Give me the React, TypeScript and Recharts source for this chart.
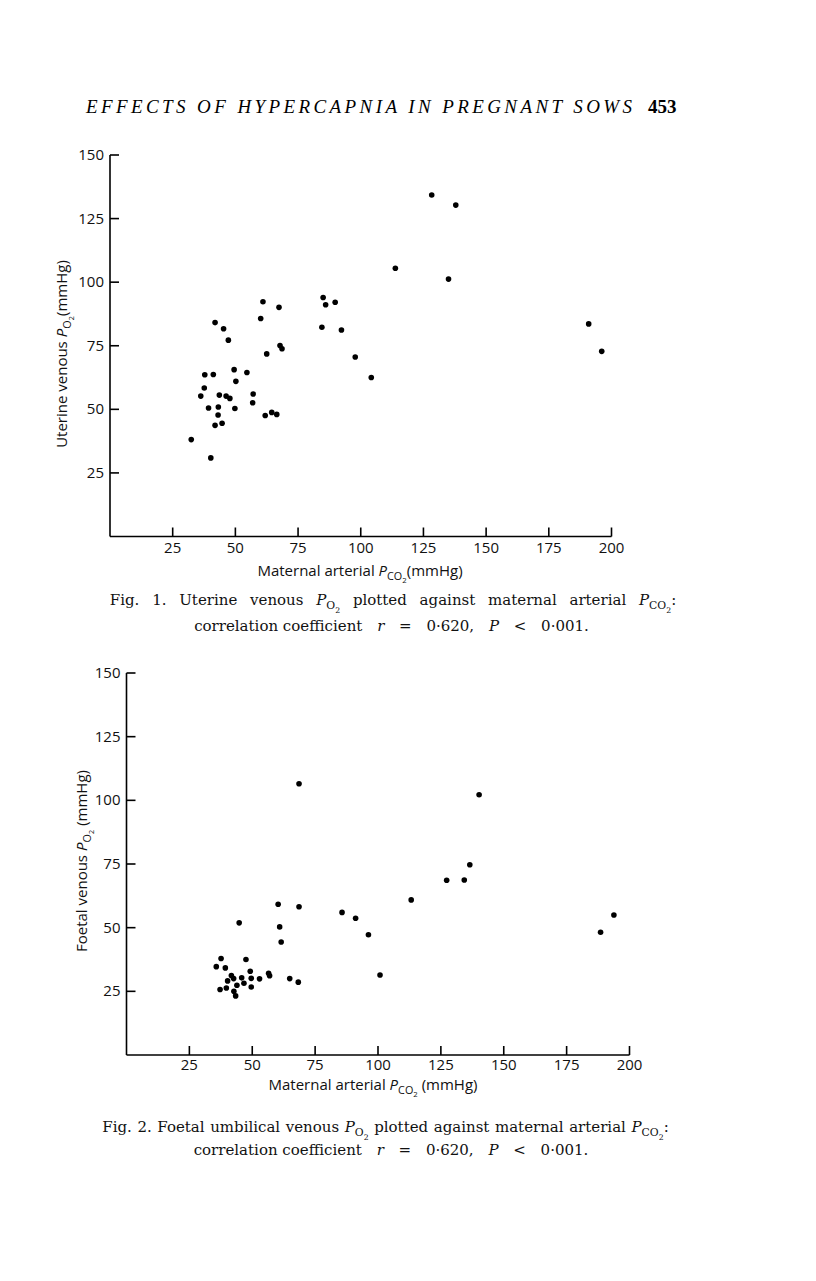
import React from "react";
import { Scatter, ScatterChart, XAxis, YAxis } from "recharts";

// Fig. 1 — maternal arterial PCO2 vs uterine venous PO2 (mmHg)
const fig1Pco2 = [
  41.9, 45.3, 47.2, 60.1, 61.0, 67.4, 85.0, 86.0, 89.8, 84.5, 92.3, 67.8, 68.6, 62.5, 97.8,
  104.2, 37.8, 41.2, 49.5, 54.6, 37.6, 50.2, 36.2, 43.6, 46.3, 47.8, 57.1, 39.3, 43.2, 49.8,
  56.9, 43.1, 61.9, 64.5, 66.5, 41.9, 44.7, 32.4, 40.2, 128.3, 137.9, 113.8, 135.0, 190.9, 196.1,
];
const fig1Po2 = [
  84.1, 81.7, 77.2, 85.7, 92.3, 90.1, 94.0, 91.1, 92.1, 82.3, 81.2, 75.1, 73.8, 71.8, 70.6,
  62.5, 63.6, 63.7, 65.6, 64.5, 58.4, 61.0, 55.2, 55.6, 55.2, 54.3, 56.0, 50.5, 50.9, 50.3,
  52.6, 47.8, 47.6, 48.8, 48.0, 43.7, 44.5, 38.1, 30.9, 134.3, 130.3, 105.5, 101.2, 83.6, 72.8,
];

// Fig. 2 — maternal arterial PCO2 vs foetal venous PO2 (mmHg)
const fig2Pco2 = [
  44.8, 60.3, 68.6, 60.9, 61.5, 85.7, 91.1, 96.2, 113.2, 100.8, 37.6, 47.5, 35.7, 39.3, 41.7,
  42.6, 40.2, 45.8, 49.2, 49.6, 52.9, 56.5, 56.9, 64.9, 68.3, 46.7, 43.9, 37.2, 39.7, 42.7,
  43.4, 49.6, 68.6, 140.2, 136.5, 127.3, 134.3, 193.8, 188.5,
];
const fig2Po2 = [
  51.9, 59.2, 58.2, 50.3, 44.4, 56.0, 53.7, 47.2, 60.9, 31.4, 37.9, 37.5, 34.7, 34.2, 31.2,
  30.0, 29.1, 30.3, 32.9, 30.1, 29.9, 32.1, 31.1, 30.0, 28.6, 28.2, 27.4, 25.7, 26.3, 25.0,
  23.2, 26.7, 106.5, 102.2, 74.7, 68.6, 68.7, 55.0, 48.2,
];

const xTicks = [25, 50, 75, 100, 125, 150, 175, 200];
const yTicks = [25, 50, 75, 100, 125, 150];

const sans = "'Open Sans', sans-serif";
const serif = "'DejaVu Serif', serif";

const toPoints = (xs: number[], ys: number[]) => xs.map((x, i) => ({ x, y: ys[i] }));

const XTick = (props: any) => {
  const { x, y, payload, labelGap = 16 } = props;
  return (
    <g>
      <line x1={x} x2={x} y1={y} y2={y - 9} stroke="#000" strokeWidth={1.6} />
      <text x={x} y={y + labelGap} textAnchor="middle" fontFamily={sans} fontSize={15} fill="#111">
        {payload.value}
      </text>
    </g>
  );
};

const YTick = (props: any) => {
  const { x, y, payload } = props;
  return (
    <g>
      <line x1={x} x2={x + 9} y1={y} y2={y} stroke="#000" strokeWidth={1.6} />
      <text x={x - 6} y={y + 5} textAnchor="end" fontFamily={sans} fontSize={15} fill="#111">
        {payload.value}
      </text>
    </g>
  );
};

const Dot = (props: any) => <circle cx={props.cx} cy={props.cy} r={2.8} fill="#000" />;

type PlotProps = {
  data: { x: number; y: number }[];
  left: number;
  top: number;
  labelGap: number;
  margin: { top: number; right: number; bottom: number; left: number };
};

function Plot({ data, left, top, labelGap, margin }: PlotProps) {
  return (
    <div style={{ position: "absolute", left, top }}>
      <ScatterChart width={600} height={420} margin={margin}>
        <XAxis
          type="number"
          dataKey="x"
          domain={[0, 200]}
          ticks={xTicks}
          interval={0}
          height={20}
          tickSize={0}
          tickMargin={0}
          tickLine={false}
          axisLine={{ stroke: "#000", strokeWidth: 1.6 }}
          tick={<XTick labelGap={labelGap} />}
        />
        <YAxis
          type="number"
          dataKey="y"
          domain={[0, 150]}
          ticks={yTicks}
          interval={0}
          width={60}
          tickSize={0}
          tickMargin={0}
          tickLine={false}
          axisLine={{ stroke: "#000", strokeWidth: 1.6 }}
          tick={<YTick />}
        />
        <Scatter data={data} shape={<Dot />} isAnimationActive={false} />
      </ScatterChart>
    </div>
  );
}

const Sub = ({ children }: { children: React.ReactNode }) => (
  <span style={{ fontSize: "0.72em", verticalAlign: "-0.4em", fontStyle: "normal", wordSpacing: 0 }}>{children}</span>
);

const centered = (x: number, y: number): React.CSSProperties => ({
  position: "absolute",
  left: x,
  top: y,
  transform: "translate(-50%, -50%)",
  whiteSpace: "nowrap",
  lineHeight: 1,
});

const Stats = () => (
  <>
    correlation coefficient
    <span style={{ wordSpacing: 10 }}>
      {" "}
      <i>r</i> = 0·620, <i>P</i> &lt; 0·001.
    </span>
  </>
);

export default function App() {
  return (
    <div style={{ position: "absolute", left: 0, top: 0, width: 816, height: 1281, background: "#fff", color: "#111" }}>
      <svg width={816} height={130} style={{ position: "absolute", left: 0, top: 0 }}>
        <text x={86} y={113} textLength={546} lengthAdjust="spacing" fontFamily="'Liberation Serif', serif" fontStyle="italic" fontSize={19}>
          EFFECTS OF HYPERCAPNIA IN PREGNANT SOWS
        </text>
        <text x={648} y={113} fontFamily="'Liberation Serif', serif" fontWeight="bold" fontSize={19}>
          453
        </text>
      </svg>

      {/* Fig. 1 */}
      <Plot data={toPoints(fig1Pco2, fig1Po2)} left={40} top={140} labelGap={16} margin={{ top: 15, right: 28.5, bottom: 3.5, left: 10 }} />
      <div style={{ ...centered(65, 354), transform: "translate(-50%, -50%) rotate(-90deg)", fontFamily: sans, fontSize: 15 }}>
        Uterine venous <i>P</i>
        <Sub>O<Sub>2</Sub></Sub>(mmHg)
      </div>
      <div style={{ ...centered(360, 574), fontFamily: sans, fontSize: 15 }}>
        Maternal arterial <i>P</i>
        <Sub>CO<Sub>2</Sub></Sub>(mmHg)
      </div>
      <div style={{ ...centered(393, 604), fontFamily: serif, fontSize: 15, wordSpacing: 8 }}>
        Fig. 1. Uterine venous <i>P</i>
        <Sub>O<Sub>2</Sub></Sub> plotted against maternal arterial <i>P</i>
        <Sub>CO<Sub>2</Sub></Sub>:
      </div>
      <div style={{ ...centered(391.5, 626), fontFamily: serif, fontSize: 15 }}>
        <Stats />
      </div>

      {/* Fig. 2 */}
      <Plot data={toPoints(fig2Pco2, fig2Po2)} left={56} top={658} labelGap={14.5} margin={{ top: 15, right: 26.5, bottom: 3, left: 10.5 }} />
      <div style={{ ...centered(84.5, 861), transform: "translate(-50%, -50%) rotate(-90deg)", fontFamily: sans, fontSize: 15 }}>
        Foetal venous <i>P</i>
        <Sub>O<Sub>2</Sub></Sub> (mmHg)
      </div>
      <div style={{ ...centered(373, 1088), fontFamily: sans, fontSize: 15 }}>
        Maternal arterial <i>P</i>
        <Sub>CO<Sub>2</Sub></Sub> (mmHg)
      </div>
      <div style={{ ...centered(385.5, 1131), fontFamily: serif, fontSize: 15, wordSpacing: 0.8 }}>
        Fig. 2. Foetal umbilical venous <i>P</i>
        <Sub>O<Sub>2</Sub></Sub> plotted against maternal arterial <i>P</i>
        <Sub>CO<Sub>2</Sub></Sub>:
      </div>
      <div style={{ ...centered(391, 1150), fontFamily: serif, fontSize: 15 }}>
        <Stats />
      </div>
    </div>
  );
}
